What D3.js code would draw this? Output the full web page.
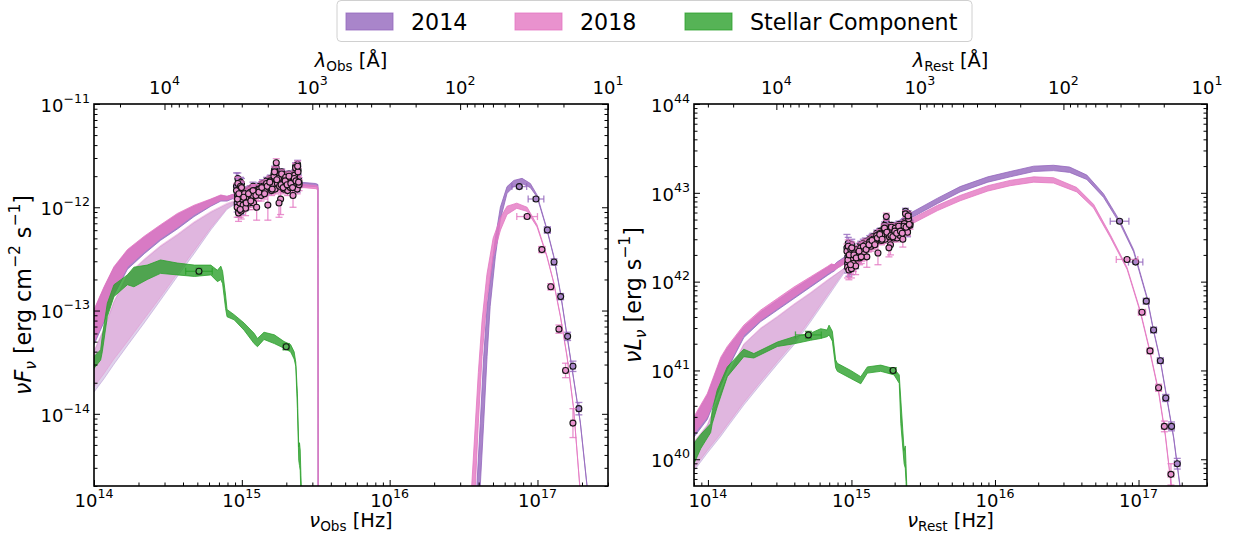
<!DOCTYPE html>
<html>
<head>
<meta charset="utf-8">
<script src="https://cdn.jsdelivr.net/npm/d3@7/dist/d3.min.js"></script>
<style>
html,body{margin:0;padding:0;background:#fff;}
svg{display:block;font-family:"DejaVu Sans",sans-serif;}
</style>
</head>
<body>
<svg id="chart" width="1244" height="538"></svg>
<script>
// ====================== DATA ======================
const C_ANG = 2.998e18;               // speed of light, Angstrom / s
const legendLabels = ["2014", "2018", "Stellar Component"];

// ---------- Left panel: observed frame, log10(nu [Hz]) / log10(nuF_nu) ----------
// total model band (disk + host)
const logNuTotL   = [14.0,14.068,14.135,14.226,14.34,14.45,14.564,14.677,14.79,14.858,14.90,14.95,15.0,15.1,15.2,15.3,15.42,15.5,15.515,15.517];
const logTot14HiL = [-13.00,-12.78,-12.585,-12.42,-12.29,-12.18,-12.07,-11.99,-11.925,-11.885,-11.895,-11.87,-11.845,-11.82,-11.795,-11.775,-11.76,-11.77,-11.78,-16];
const logTot14LoL = [-13.33,-13.11,-12.85,-12.60,-12.45,-12.32,-12.21,-12.09,-11.99,-11.94,-11.94,-11.91,-11.88,-11.855,-11.83,-11.81,-11.795,-11.80,-11.81,-16];
const logTot18HiL = [-12.99,-12.77,-12.575,-12.41,-12.28,-12.17,-12.06,-11.98,-11.92,-11.88,-11.895,-11.87,-11.85,-11.83,-11.81,-11.79,-11.78,-11.79,-11.80,-16];
const logTot18LoL = [-13.30,-13.09,-12.83,-12.575,-12.43,-12.30,-12.19,-12.07,-11.98,-11.93,-11.93,-11.90,-11.88,-11.86,-11.84,-11.82,-11.81,-11.82,-11.83,-16];
// disk-only model band (light)
const logNuDiskL   = [14.0,14.068,14.135,14.226,14.34,14.45,14.564,14.677,14.79,14.90,15.0,15.04];
const logDisk14HiL = [-13.40,-13.18,-12.92,-12.66,-12.51,-12.38,-12.27,-12.15,-12.05,-11.97,-11.92,-11.89];
const logDisk14LoL = [-13.79,-13.66,-13.52,-13.34,-13.12,-12.90,-12.67,-12.45,-12.22,-12.02,-11.93,-11.90];
const logDisk18HiL = [-13.39,-13.17,-12.91,-12.65,-12.50,-12.37,-12.26,-12.14,-12.04,-11.96,-11.91,-11.89];
const logDisk18LoL = [-13.74,-13.61,-13.47,-13.30,-13.08,-12.87,-12.64,-12.42,-12.20,-12.01,-11.92,-11.89];
// stellar component band
const logNuStarL = [14.0,14.045,14.056,14.09,14.135,14.226,14.27,14.36,14.45,14.564,14.68,14.79,14.835,14.858,14.87,14.89,14.90,14.948,15.015,15.083,15.106,15.15,15.22,15.286,15.33,15.354,15.365,15.376,15.385,15.39,15.395,15.40,15.41];
const logStarHiL = [-13.445,-13.38,-13.25,-12.93,-12.75,-12.655,-12.58,-12.56,-12.51,-12.54,-12.56,-12.56,-12.61,-12.57,-12.62,-12.85,-12.99,-13.04,-13.12,-13.22,-13.27,-13.21,-13.235,-13.30,-13.33,-13.40,-13.50,-13.80,-14.32,-14.28,-14.35,-14.6,-15.0];
const logStarLoL = [-13.56,-13.48,-13.40,-13.06,-12.865,-12.75,-12.77,-12.70,-12.64,-12.655,-12.67,-12.655,-12.72,-12.70,-12.74,-12.98,-13.06,-13.09,-13.19,-13.32,-13.35,-13.28,-13.32,-13.365,-13.40,-13.47,-13.54,-13.95,-14.45,-14.5,-14.55,-14.8,-15.2];
// X-ray model bands
const logNuX14L = [16.59,16.613,16.636,16.659,16.68,16.715,16.749,16.794,16.84,16.896,16.952,16.997,17.064,17.11,17.155,17.2,17.245,17.29,17.335,17.36];
const logX14HiL = [-14.70,-14.09,-13.45,-12.96,-12.70,-12.30,-12.00,-11.80,-11.74,-11.72,-11.77,-11.88,-12.21,-12.47,-12.82,-13.24,-13.66,-14.08,-14.69,-15.09];
const logX14LoL = [-15.30,-14.70,-14.09,-13.446,-12.96,-12.48,-12.12,-11.865,-11.80,-11.77,-11.81,-11.90,-12.22,-12.48,-12.83,-13.25,-13.67,-14.09,-14.70,-15.10];
const logNuX18L = [16.555,16.58,16.60,16.625,16.658,16.70,16.75,16.794,16.86,16.93,16.997,17.064,17.11,17.155,17.2,17.245,17.286,17.31];
const logX18HiL = [-14.70,-14.09,-13.60,-13.10,-12.65,-12.30,-12.10,-11.99,-11.96,-12.00,-12.17,-12.47,-12.725,-13.05,-13.44,-13.95,-14.69,-15.19];
const logX18LoL = [-15.30,-14.70,-14.09,-13.446,-12.90,-12.48,-12.22,-12.07,-12.01,-12.04,-12.19,-12.48,-12.735,-13.06,-13.45,-13.96,-14.70,-15.20];
// X-ray photometry (log10 nu, log10 nuF_nu, half-errors in dex)
const logNuXpt14L = [16.877,16.99,17.067,17.112,17.157,17.204,17.24,17.28];
const logFXpt14L  = [-11.80,-11.92,-12.22,-12.53,-12.865,-13.25,-13.54,-13.95];
const xErrXpt14L  = [0.05,0.053,0.02,0.015,0.015,0.015,0.015,0.015];
const yErrXpt14L  = [0.02,0.02,0.03,0.03,0.03,0.04,0.05,0.06];
const logNuXpt18L = [16.93,17.03,17.09,17.145,17.19,17.24];
const logFXpt18L  = [-12.09,-12.41,-12.77,-13.18,-13.58,-14.09];
const xErrXpt18L  = [0.07,0.02,0.015,0.015,0.015,0.015];
const yErrXpt18L  = [0.02,0.03,0.03,0.04,0.07,0.14];
// stellar photometry
const logNuStarPtL = [14.71,15.30];
const logStarPtL   = [-12.62,-13.35];
const xErrStarPtL  = [0.09,0.02];
const yErrStarPtL  = [0.03,0.03];
// UV spectrum: nu in 1e15 Hz, nuF_nu in 1e-12 erg cm^-2 s^-1
const uvNuL  = [0.92,0.93,0.94,0.95,0.96,0.97,0.98,0.99,1.00,1.02,1.04,1.06,1.08,1.10,1.12,1.14,1.16,1.18,1.20,1.23,1.26,1.29,1.32,1.35,1.38,1.41,1.44,1.47,1.50,1.53,1.56,1.59,1.62,1.65,1.68,1.71,1.74,1.77,1.80,1.83,1.86,1.89,1.92,1.95,1.98,2.01,2.04,2.07,2.10,2.13,2.16,2.19,2.22,2.25,2.28,2.31,2.34,2.37,2.40,2.44,
                0.935,0.955,0.975,0.995,1.03,1.07,1.11,1.15,1.19,1.245,1.305,1.365,1.425,1.485,1.545,1.605,1.665,1.725,1.785,1.845,1.905,1.965,2.025,2.085,2.145,2.205,2.265,2.325,2.385,2.42];
const uvF14L = [1.6,1.1,1.9,0.95,1.4,1.2,1.75,1.0,1.3,1.15,1.45,1.05,1.25,1.35,1.2,1.5,1.3,1.4,1.25,1.55,1.35,1.45,1.6,1.4,1.7,1.5,1.55,1.8,1.45,1.65,1.9,1.55,1.75,2.1,1.6,2.4,1.8,2.0,1.7,1.95,2.2,1.75,1.6,1.85,2.05,1.7,1.55,1.9,1.8,1.65,2.0,1.85,1.7,1.95,2.15,2.5,1.8,1.6,2.3,1.75,
                1.3,1.5,1.05,1.7,1.35,1.2,1.45,1.25,1.6,1.4,1.5,1.65,1.45,1.7,1.85,1.6,2.3,1.95,1.85,1.75,1.65,1.9,1.75,2.1,1.8,1.65,2.0,1.9,2.6,1.85];
const uvE14L = [0.55,0.2,0.25,0.15,0.2,0.15,0.2,0.15,0.15,0.12,0.12,0.12,0.12,0.12,0.12,0.12,0.12,0.12,0.12,0.12,0.12,0.12,0.12,0.12,0.15,0.12,0.12,0.15,0.12,0.12,0.15,0.12,0.12,0.15,0.12,0.18,0.12,0.15,0.12,0.12,0.15,0.12,0.12,0.12,0.15,0.12,0.12,0.12,0.12,0.15,0.12,0.12,0.12,0.12,0.15,0.2,0.15,0.2,0.2,0.18,
                0.15,0.15,0.12,0.2,0.12,0.12,0.12,0.12,0.15,0.12,0.12,0.12,0.12,0.12,0.15,0.12,0.2,0.15,0.12,0.12,0.12,0.15,0.12,0.15,0.12,0.12,0.15,0.12,0.25,0.2];
const uvF18L = [1.45,1.0,1.7,0.88,1.3,1.1,1.6,0.92,1.2,1.05,1.35,0.98,1.15,1.25,1.1,1.4,1.2,1.3,1.1,1.45,1.0,1.35,1.5,1.3,1.6,1.4,1.45,1.7,1.05,1.55,1.8,1.45,1.65,2.0,1.5,2.7,1.7,1.9,1.6,1.2,2.1,1.65,1.5,1.75,1.95,1.6,1.45,1.8,1.7,1.55,1.9,1.75,1.3,1.85,2.05,2.4,1.7,1.5,2.2,1.65,
                1.2,1.35,0.95,1.55,1.25,1.1,1.35,1.15,1.45,1.3,1.4,1.55,1.35,1.6,1.75,1.5,2.2,1.85,1.1,1.65,1.55,1.8,1.65,2.0,1.7,1.55,1.9,1.8,2.5,1.75];
const uvE18L = [0.25,0.2,0.25,0.15,0.18,0.15,0.2,0.15,0.15,0.15,0.15,0.15,0.2,0.25,0.15,0.2,0.15,0.15,0.15,0.2,0.25,0.2,0.15,0.15,0.2,0.15,0.15,0.15,0.3,0.15,0.2,0.15,0.15,0.2,0.15,0.25,0.2,0.2,0.15,0.35,0.2,0.15,0.15,0.2,0.2,0.15,0.15,0.2,0.15,0.15,0.2,0.15,0.3,0.2,0.2,0.25,0.15,0.15,0.2,0.2,
                0.2,0.2,0.15,0.2,0.15,0.15,0.2,0.15,0.2,0.15,0.15,0.2,0.15,0.2,0.2,0.15,0.25,0.2,0.3,0.2,0.15,0.2,0.15,0.2,0.15,0.15,0.2,0.2,0.3,0.2];

// ---------- Right panel: rest frame, log10(nu [Hz]) / log10(nuL_nu) ----------
const logNuTot14R = [13.903,13.996,14.09,14.135,14.25,14.368,14.484,14.60,14.716,14.832,14.86,14.88,14.90,14.972,15.1,15.25,15.409,15.6,15.757,15.95,16.106,16.27,16.408,16.52,16.64,16.756,16.873,16.966,17.059,17.105,17.152,17.198,17.245,17.29,17.32];
const logTot14HiR = [40.46,40.72,41.13,41.25,41.49,41.66,41.79,41.92,42.04,42.16,42.19,42.19,42.22,42.30,42.44,42.60,42.77,42.94,43.07,43.18,43.24,43.30,43.31,43.29,43.20,42.99,42.675,42.36,41.83,41.455,41.12,40.69,40.25,39.69,39.3];
const logTot14LoR = [40.25,40.45,40.83,41.01,41.37,41.55,41.68,41.81,41.94,42.07,42.10,42.12,42.15,42.23,42.38,42.54,42.71,42.88,43.01,43.12,43.18,43.24,43.25,43.23,43.15,42.95,42.645,42.335,41.81,41.44,41.105,40.675,40.235,39.675,39.28];
const logNuTot18R = [13.903,13.996,14.09,14.135,14.25,14.368,14.484,14.60,14.716,14.832,14.86,14.88,14.90,14.972,15.1,15.25,15.409,15.6,15.757,15.95,16.106,16.27,16.408,16.57,16.687,16.803,16.92,17.013,17.08,17.14,17.187,17.23,17.26];
const logTot18HiR = [40.48,40.74,41.15,41.27,41.51,41.68,41.81,41.94,42.055,42.17,42.20,42.19,42.21,42.28,42.40,42.55,42.70,42.86,42.97,43.08,43.14,43.18,43.17,43.06,42.87,42.53,42.16,41.67,41.22,40.77,40.28,39.68,39.2];
const logTot18LoR = [40.29,40.48,40.855,41.04,41.40,41.57,41.70,41.83,41.96,42.09,42.12,42.13,42.15,42.22,42.34,42.49,42.64,42.80,42.91,43.02,43.08,43.12,43.11,43.01,42.83,42.50,42.14,41.65,41.20,40.75,40.26,39.66,39.18];
const logNuDiskR   = [13.903,13.996,14.09,14.135,14.25,14.368,14.484,14.60,14.716,14.832,14.95,15.0];
const logDisk14HiR = [40.19,40.38,40.75,40.93,41.29,41.47,41.60,41.74,41.87,42.01,42.15,42.20];
const logDisk14LoR = [39.87,40.07,40.26,40.36,40.61,40.845,41.07,41.29,41.55,41.82,42.10,42.18];
const logDisk18HiR = [40.20,40.39,40.76,40.94,41.30,41.48,41.61,41.75,41.88,42.02,42.15,42.20];
const logDisk18LoR = [39.90,40.10,40.29,40.39,40.64,40.875,41.10,41.32,41.58,41.85,42.12,42.19];
const logNuStarR = [13.903,13.95,14.019,14.03,14.065,14.135,14.25,14.32,14.484,14.60,14.716,14.786,14.83,14.844,14.867,14.89,14.902,14.995,15.065,15.111,15.204,15.297,15.333,15.344,15.367,15.375,15.38,15.39];
const logStarHiR = [40.18,40.28,40.40,40.55,40.78,41.04,41.24,41.19,41.32,41.38,41.42,41.47,41.455,41.51,41.44,41.12,41.08,41.00,40.93,41.04,41.06,41.02,40.95,40.67,40.10,40.15,39.95,39.5];
const logStarLoR = [39.95,40.12,40.30,40.40,40.59,40.93,41.155,41.14,41.27,41.30,41.34,41.36,41.38,41.40,41.33,41.03,40.99,40.91,40.85,40.97,40.99,40.95,40.855,40.40,39.95,39.9,39.75,39.4];
const logNuXpt14R = [16.868,16.98,17.054,17.105,17.152,17.19,17.23,17.27];
const logLXpt14R  = [42.68,42.22,41.78,41.455,41.11,40.69,40.37,39.95];
const xErrXpt14R  = [0.065,0.05,0.02,0.02,0.02,0.02,0.02,0.02];
const yErrXpt14R  = [0.02,0.02,0.03,0.03,0.03,0.04,0.05,0.06];
const logNuXpt18R = [16.92,17.024,17.08,17.14,17.18,17.226];
const logLXpt18R  = [42.25,41.655,41.22,40.805,40.37,39.83];
const xErrXpt18R  = [0.075,0.025,0.02,0.02,0.02,0.02];
const yErrXpt18R  = [0.02,0.03,0.03,0.04,0.06,0.12];
const logNuStarPtR = [14.70,15.29];
const logStarPtR   = [41.40,41.00];
const xErrStarPtR  = [0.09,0.02];
const yErrStarPtR  = [0.04,0.03];
// UV spectrum: nu in 1e15 Hz, nuL_nu in 1e42 erg s^-1
const uvNuR  = [0.93,0.94,0.95,0.96,0.97,0.98,0.99,1.00,1.01,1.03,1.05,1.07,1.10,1.12,1.14,1.16,1.18,1.20,1.22,1.25,1.28,1.31,1.34,1.37,1.41,1.44,1.47,1.50,1.53,1.56,1.59,1.62,1.65,1.69,1.72,1.75,1.78,1.81,1.84,1.87,1.90,1.93,1.96,1.99,2.02,2.05,2.08,2.12,2.15,2.18,2.21,2.24,2.28,2.31,2.34,2.38,2.42,2.46,2.50,2.56,
                0.945,0.965,0.985,1.005,1.04,1.08,1.13,1.17,1.21,1.265,1.325,1.39,1.455,1.515,1.575,1.635,1.70,1.765,1.825,1.885,1.945,2.005,2.065,2.135,2.195,2.26,2.325,2.40,2.48,2.53];
const uvL14R = [2.4,1.6,2.7,1.45,2.1,1.8,2.5,1.5,2.0,1.75,2.3,1.65,2.1,2.3,2.0,2.6,2.2,2.45,2.25,2.8,2.5,2.7,3.0,2.7,3.2,2.9,3.0,3.5,2.9,3.2,3.7,3.1,3.5,4.1,3.2,4.6,3.6,3.9,3.4,3.8,4.3,3.6,3.3,3.8,4.2,3.6,3.3,4.0,3.8,3.5,4.3,4.0,3.7,4.2,4.7,6.2,4.2,3.8,5.4,4.5,
                1.9,2.2,1.7,2.6,2.2,2.0,2.4,2.1,2.7,2.5,2.8,3.1,2.8,3.3,3.6,3.2,4.3,3.8,3.6,3.5,3.4,3.9,3.7,4.4,3.9,3.7,4.4,4.3,5.8,4.6];
const uvE14R = [1.0,0.35,0.45,0.3,0.35,0.3,0.35,0.3,0.3,0.25,0.25,0.25,0.25,0.25,0.25,0.25,0.25,0.25,0.25,0.3,0.25,0.25,0.3,0.25,0.3,0.25,0.25,0.3,0.25,0.3,0.3,0.25,0.3,0.35,0.25,0.4,0.3,0.3,0.25,0.3,0.35,0.3,0.25,0.3,0.35,0.3,0.25,0.3,0.3,0.3,0.35,0.3,0.3,0.35,0.4,0.5,0.35,0.6,0.5,0.4,
                0.3,0.35,0.3,0.4,0.3,0.3,0.3,0.3,0.3,0.3,0.3,0.3,0.3,0.3,0.35,0.3,0.4,0.35,0.3,0.3,0.3,0.35,0.3,0.4,0.3,0.3,0.35,0.35,0.5,0.4];
const uvL18R = [2.2,1.45,2.5,1.35,1.95,1.65,2.3,1.4,1.85,1.6,2.1,1.5,1.95,2.1,1.85,2.4,2.0,2.25,2.05,2.6,1.9,2.5,2.8,2.5,3.0,2.7,2.8,3.3,2.1,3.0,3.5,2.9,3.3,3.9,3.0,5.4,3.4,3.7,3.2,2.6,4.1,3.4,3.1,3.6,4.0,3.4,3.1,3.8,3.6,3.3,4.1,3.8,3.0,4.0,4.5,5.8,4.0,3.6,5.1,4.3,
                1.75,2.0,1.55,2.4,2.0,1.85,2.2,1.9,2.5,2.3,2.6,2.9,2.6,3.1,3.4,3.0,4.0,3.6,2.4,3.3,3.2,3.7,3.5,4.2,3.7,3.5,4.2,4.1,5.5,4.4];
const uvE18R = [0.45,0.35,0.45,0.3,0.35,0.3,0.4,0.3,0.3,0.3,0.3,0.3,0.35,0.45,0.3,0.35,0.3,0.3,0.3,0.4,0.45,0.35,0.3,0.3,0.35,0.3,0.3,0.3,0.55,0.3,0.35,0.3,0.3,0.4,0.3,0.5,0.35,0.35,0.3,0.6,0.4,0.3,0.3,0.35,0.4,0.3,0.3,0.35,0.3,0.3,0.4,0.3,0.55,0.35,0.4,0.5,0.3,0.3,0.4,0.4,
                0.35,0.35,0.3,0.4,0.35,0.3,0.35,0.3,0.35,0.3,0.35,0.35,0.3,0.35,0.4,0.3,0.45,0.35,0.5,0.35,0.3,0.4,0.35,0.4,0.35,0.3,0.4,0.4,0.55,0.4];

// ====================== DRAWING ======================
const COL14 = "#9467bd", COL18 = "#e377c2", COLST = "#2ca02c";
const FACE14 = "#a985ca", FACE18 = "#e992ce";
const svg = d3.select("#chart");
const defs = svg.append("defs");

function mtext(g, x, y, parts, size, anchor, rot) {
  const t = g.append("text").attr("x", x).attr("y", y).attr("font-size", size)
    .attr("text-anchor", anchor || "middle").attr("fill", "#000");
  if (rot) t.attr("transform", `rotate(${rot},${x},${y})`);
  let shift = 0;
  parts.forEach(([s, st]) => {
    let fs = size, target = 0;
    if (st.indexOf("sup") >= 0) { fs = size * 0.7; target = -0.5 * size; }
    if (st.indexOf("sub") >= 0) { fs = size * 0.7; target = 0.22 * size; }
    const ts = t.append("tspan").attr("font-size", fs).attr("dy", target - shift).text(s);
    if (st.charAt(0) === "i") ts.attr("font-style", "italic");
    shift = target;
  });
  return t;
}
function expParts(v) {
  const e = Math.round(Math.log10(v));
  return [["10", ""], [(e < 0 ? "\u2212" : "") + Math.abs(e), "sup"]];
}
function splitTicks(scale) {
  const all = scale.ticks();
  const major = all.filter(v => Math.abs(Math.log10(v) - Math.round(Math.log10(v))) < 1e-6);
  const minor = all.filter(v => major.indexOf(v) < 0);
  return { major, minor };
}

function drawPanel(p) {
  const x = d3.scaleLog().domain(p.xdom).range([p.x0, p.x1]);
  const y = d3.scaleLog().domain(p.ydom).range([p.y1, p.y0]);
  const lam = d3.scaleLog().domain([C_ANG / p.xdom[0], C_ANG / p.xdom[1]]).range([p.x0, p.x1]);
  const g = svg.append("g");
  defs.append("clipPath").attr("id", "clip" + p.id).append("rect")
    .attr("x", p.x0).attr("y", p.y0).attr("width", p.x1 - p.x0).attr("height", p.y1 - p.y0);
  const plot = g.append("g").attr("clip-path", `url(#clip${p.id})`);

  const band = (nu, lo, hi, color, alpha) => {
    const data = nu.map((n, i) => ({ n, lo: lo[i], hi: hi[i] }));
    const area = d3.area().x(d => x(Math.pow(10, d.n)))
      .y0(d => y(Math.pow(10, d.lo))).y1(d => y(Math.pow(10, d.hi)));
    plot.append("path").attr("d", area(data)).attr("fill", color).attr("fill-opacity", alpha)
      .attr("stroke", color).attr("stroke-opacity", alpha).attr("stroke-width", 1).attr("stroke-linejoin", "round");
  };
  const errPts = (pts, color, face) => {
    const eg = plot.append("g").attr("stroke", color).attr("stroke-opacity", 0.8).attr("stroke-width", 1.3);
    const cap = 3.5;
    pts.forEach(d => {
      const cx = x(d.x), cy = y(d.y);
      const xl = x(d.xl), xh = x(d.xh), yl = y(d.yl), yh = y(d.yh);
      if (xh - xl > 0.5) {
        eg.append("line").attr("x1", xl).attr("x2", xh).attr("y1", cy).attr("y2", cy);
        eg.append("line").attr("x1", xl).attr("x2", xl).attr("y1", cy - cap).attr("y2", cy + cap);
        eg.append("line").attr("x1", xh).attr("x2", xh).attr("y1", cy - cap).attr("y2", cy + cap);
      }
      eg.append("line").attr("x1", cx).attr("x2", cx).attr("y1", yl).attr("y2", yh);
      eg.append("line").attr("x1", cx - cap).attr("x2", cx + cap).attr("y1", yl).attr("y2", yl);
      eg.append("line").attr("x1", cx - cap).attr("x2", cx + cap).attr("y1", yh).attr("y2", yh);
    });
    plot.append("g").selectAll("circle").data(pts).join("circle")
      .attr("cx", d => x(d.x)).attr("cy", d => y(d.y)).attr("r", 3)
      .attr("fill", face).attr("stroke", "#141414").attr("stroke-width", 1.1);
  };
  const logPts = (ln, lv, ex, ey) => ln.map((n, i) => ({
    x: Math.pow(10, n), y: Math.pow(10, lv[i]),
    xl: Math.pow(10, n - ex[i]), xh: Math.pow(10, n + ex[i]),
    yl: Math.pow(10, lv[i] - ey[i]), yh: Math.pow(10, lv[i] + ey[i]) }));
  const linPts = (nu, v, e, nuU, vU) => nu.map((n, i) => ({
    x: n * nuU, y: v[i] * vU, xl: n * nuU, xh: n * nuU,
    yl: (v[i] - e[i]) * vU, yh: (v[i] + e[i]) * vU }));

  // model bands
  band(p.disk.nu, p.disk.lo14, p.disk.hi14, COL14, 0.3);
  band(p.disk.nu, p.disk.lo18, p.disk.hi18, COL18, 0.3);
  band(p.tot.nu14, p.tot.lo14, p.tot.hi14, COL14, 0.8);
  band(p.tot.nu18, p.tot.lo18, p.tot.hi18, COL18, 0.8);
  if (p.xray) {
    band(p.xray.nu14, p.xray.lo14, p.xray.hi14, COL14, 0.8);
    band(p.xray.nu18, p.xray.lo18, p.xray.hi18, COL18, 0.8);
  }
  band(p.star.nu, p.star.lo, p.star.hi, COLST, 0.8);

  // data
  errPts(linPts(p.uv.nu, p.uv.v14, p.uv.e14, 1e15, p.uv.unit), COL14, FACE14);
  errPts(linPts(p.uv.nu, p.uv.v18, p.uv.e18, 1e15, p.uv.unit), COL18, FACE18);
  errPts(logPts(p.xp.nu14, p.xp.v14, p.xp.ex14, p.xp.ey14), COL14, FACE14);
  errPts(logPts(p.xp.nu18, p.xp.v18, p.xp.ex18, p.xp.ey18), COL18, FACE18);
  errPts(logPts(p.sp.nu, p.sp.v, p.sp.ex, p.sp.ey), COLST, "#56b356");

  // axes ticks (inward on all sides)
  const xt = splitTicks(x), yt = splitTicks(y), lt = splitTicks(lam);
  const ax = (axis, tv, size, tr) => {
    const a = g.append("g").attr("transform", tr)
      .call(axis.tickValues(tv).tickSizeInner(-size).tickSizeOuter(0).tickFormat(() => ""));
    a.select(".domain").remove();
    a.selectAll("line").attr("stroke", "#000").attr("stroke-width", 1);
  };
  [[xt.major, 6], [xt.minor, 3.5]].forEach(([tv, s]) => ax(d3.axisBottom(x), tv, s, `translate(0,${p.y1})`));
  [[lt.major, 6], [lt.minor, 3.5]].forEach(([tv, s]) => ax(d3.axisTop(lam), tv, s, `translate(0,${p.y0})`));
  [[yt.major, 6], [yt.minor, 3.5]].forEach(([tv, s]) => {
    ax(d3.axisLeft(y), tv, s, `translate(${p.x0},0)`);
    ax(d3.axisRight(y), tv, s, `translate(${p.x1},0)`);
  });
  g.append("rect").attr("x", p.x0).attr("y", p.y0).attr("width", p.x1 - p.x0).attr("height", p.y1 - p.y0)
    .attr("fill", "none").attr("stroke", "#000").attr("stroke-width", 1.6);

  // tick labels
  xt.major.forEach(v => mtext(g, x(v), 507, expParts(v), 18, "middle"));
  lt.major.forEach(v => mtext(g, lam(v), 94, expParts(v), 18, "middle"));
  yt.major.forEach(v => mtext(g, p.x0 - 4, y(v) + 7.7, expParts(v), 18, "end"));

  // axis titles
  const cx = (p.x0 + p.x1) / 2;
  mtext(g, cx, 527, [["\u03bd", "i"], [p.sub, "sub"], [" [Hz]", ""]], 19.4, "middle");
  mtext(g, cx, 67, [["\u03bb", "i"], [p.sub, "sub"], [" [\u00c5]", ""]], 19.4, "middle");
  mtext(g, p.ylabX, (p.y0 + p.y1) / 2, p.ylab, 22.2, "middle", -90);
}

drawPanel({
  id: "L", x0: 94, x1: 608, y0: 104, y1: 486, xdom: [1e14, 3e17], ydom: [2e-15, 1e-11], sub: "Obs", ylabX: 31,
  ylab: [["\u03bd", "i"], ["F", "i"], ["\u03bd", "isub"], [" [erg cm", ""], ["\u22122", "sup"], [" s", ""], ["\u22121", "sup"], ["]", ""]],
  tot: { nu14: logNuTotL, lo14: logTot14LoL, hi14: logTot14HiL, nu18: logNuTotL, lo18: logTot18LoL, hi18: logTot18HiL },
  disk: { nu: logNuDiskL, lo14: logDisk14LoL, hi14: logDisk14HiL, lo18: logDisk18LoL, hi18: logDisk18HiL },
  xray: { nu14: logNuX14L, lo14: logX14LoL, hi14: logX14HiL, nu18: logNuX18L, lo18: logX18LoL, hi18: logX18HiL },
  star: { nu: logNuStarL, lo: logStarLoL, hi: logStarHiL },
  uv: { nu: uvNuL, v14: uvF14L, e14: uvE14L, v18: uvF18L, e18: uvE18L, unit: 1e-12 },
  xp: { nu14: logNuXpt14L, v14: logFXpt14L, ex14: xErrXpt14L, ey14: yErrXpt14L, nu18: logNuXpt18L, v18: logFXpt18L, ex18: xErrXpt18L, ey18: yErrXpt18L },
  sp: { nu: logNuStarPtL, v: logStarPtL, ex: xErrStarPtL, ey: yErrStarPtL }
});
drawPanel({
  id: "R", x0: 694, x1: 1207, y0: 104, y1: 486, xdom: [8e13, 3e17], ydom: [5e39, 1e44], sub: "Rest", ylabX: 641,
  ylab: [["\u03bd", "i"], ["L", "i"], ["\u03bd", "isub"], [" [erg s", ""], ["\u22121", "sup"], ["]", ""]],
  tot: { nu14: logNuTot14R, lo14: logTot14LoR, hi14: logTot14HiR, nu18: logNuTot18R, lo18: logTot18LoR, hi18: logTot18HiR },
  disk: { nu: logNuDiskR, lo14: logDisk14LoR, hi14: logDisk14HiR, lo18: logDisk18LoR, hi18: logDisk18HiR },
  xray: null,
  star: { nu: logNuStarR, lo: logStarLoR, hi: logStarHiR },
  uv: { nu: uvNuR, v14: uvL14R, e14: uvE14R, v18: uvL18R, e18: uvE18R, unit: 1e42 },
  xp: { nu14: logNuXpt14R, v14: logLXpt14R, ex14: xErrXpt14R, ey14: yErrXpt14R, nu18: logNuXpt18R, v18: logLXpt18R, ex18: xErrXpt18R, ey18: yErrXpt18R },
  sp: { nu: logNuStarPtR, v: logStarPtR, ex: xErrStarPtR, ey: yErrStarPtR }
});

// legend
const leg = svg.append("g");
leg.append("rect").attr("x", 337).attr("y", 0.5).attr("width", 635).attr("height", 41).attr("rx", 4)
  .attr("fill", "#fff").attr("fill-opacity", 0.8).attr("stroke", "#d0d0d0").attr("stroke-width", 1);
const legCols = [COL14, COL18, COLST];
const legX = [346, 515, 685];
legendLabels.forEach((lab, i) => {
  leg.append("rect").attr("x", legX[i]).attr("y", 13).attr("width", 47).attr("height", 17)
    .attr("fill", legCols[i]).attr("fill-opacity", 0.8).attr("stroke", legCols[i]).attr("stroke-opacity", 0.8);
  leg.append("text").attr("x", legX[i] + 65).attr("y", 29.5).attr("font-size", 22.2).attr("fill", "#000").text(lab);
});
</script>
</body>
</html>
